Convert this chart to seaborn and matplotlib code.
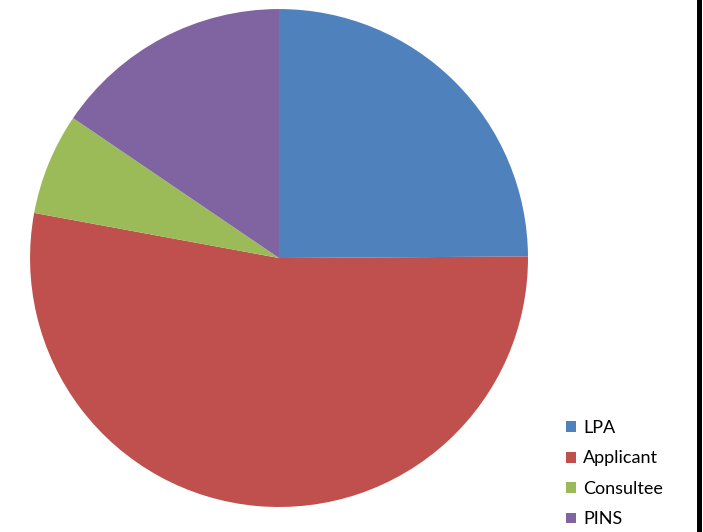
import matplotlib
matplotlib.use("Agg")
import matplotlib.pyplot as plt
from matplotlib.patches import Patch, Rectangle
import seaborn as sns

sns.set_theme(style="white")
plt.rcParams['font.family'] = ['Lato', 'DejaVu Sans']

categories = ["LPA", "Applicant", "Consultee", "PINS"]
values = [24.9, 53.0, 6.6, 15.5]
colors = sns.color_palette(["#4F81BD", "#C0504D", "#9BBB59", "#8064A2"])

fig = plt.figure(figsize=(7.03, 5.32), dpi=100)
ax = fig.add_axes([0.0427, 0.047, 0.7084, 0.936])
ax.pie(values, colors=colors, startangle=90, counterclock=False,
       wedgeprops=dict(linewidth=0))
ax.set_aspect("equal")
ax.set_xlim(-1, 1)
ax.set_ylim(-1, 1)
ax.axis("off")

handles = [Patch(facecolor=c, edgecolor="none", label=l) for c, l in zip(colors, categories)]
leg = fig.legend(handles=handles, loc="upper left", bbox_to_anchor=(0.795, 0.224),
                 frameon=False, fontsize=13, handlelength=0.55, handleheight=0.55,
                 handletextpad=0.4, labelspacing=0.8, borderaxespad=0)
for t in leg.get_texts():
    t.set_color("black")

# black border stripe on the right edge
fig.add_artist(Rectangle((697 / 703, 0), 5 / 703, 1, transform=fig.transFigure,
                         facecolor="black", edgecolor="none"))

fig.savefig("out.png", dpi=100)
